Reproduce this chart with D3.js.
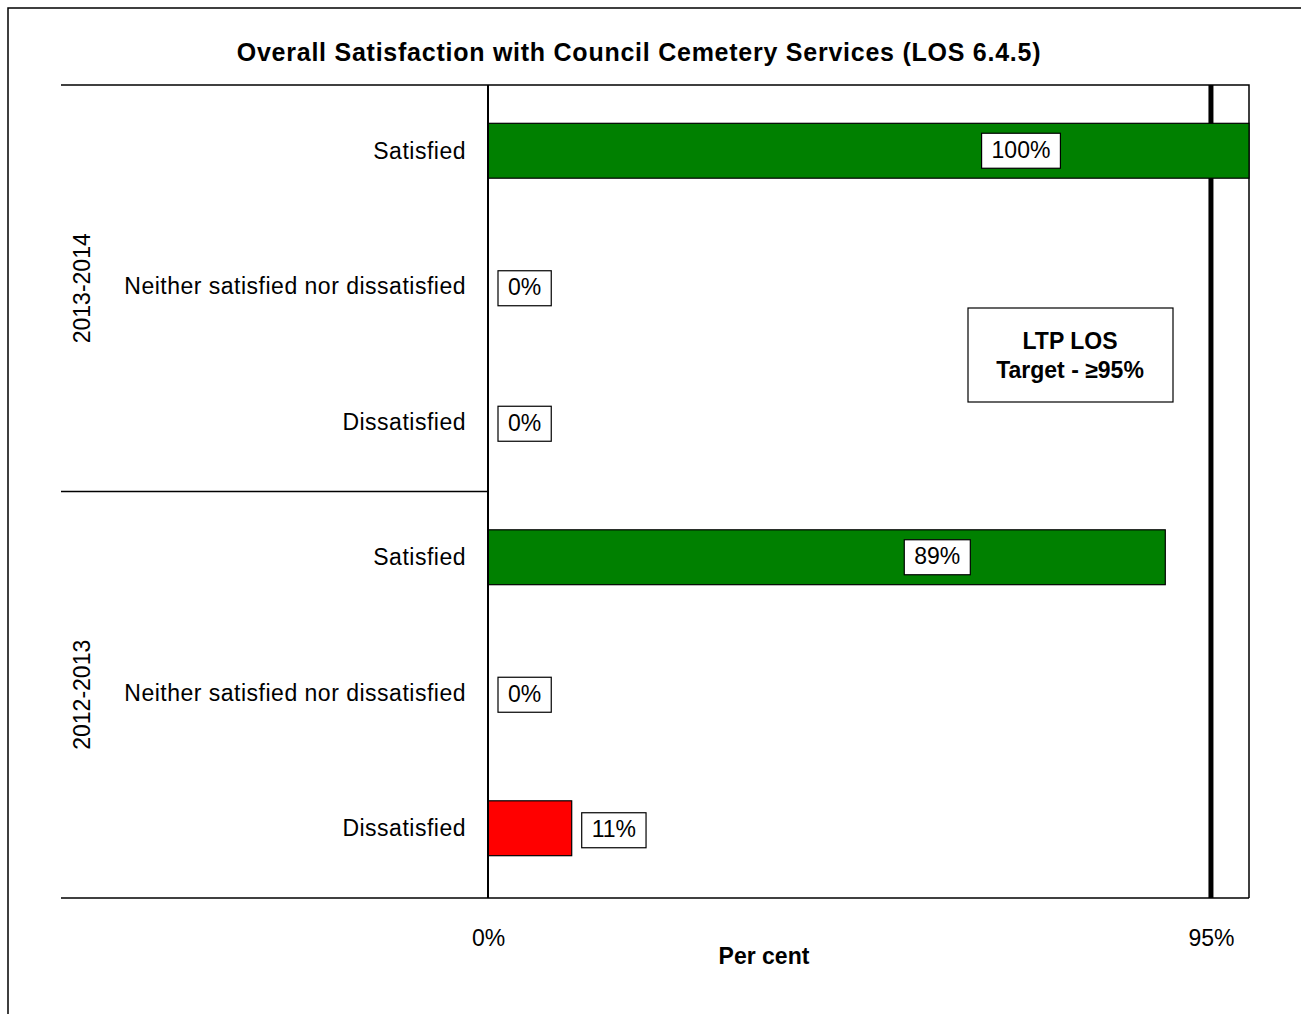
<!DOCTYPE html>
<html>
<head>
<meta charset="utf-8">
<script src="https://cdn.jsdelivr.net/npm/d3@7"></script>
<style>
  html, body { margin: 0; padding: 0; background: #fff; }
  svg { display: block; font-family: "Liberation Sans", Arial, sans-serif; }
</style>
</head>
<body>
<svg id="chart" width="1301" height="1014"></svg>
<script>
// ---- data ----
const groups = ["2013-2014", "2012-2013"];
const categories = ["Satisfied", "Neither satisfied nor dissatisfied", "Dissatisfied"];
const values2013_2014 = [100, 0, 0];
const values2012_2013 = [89, 0, 11];
const barColors = ["#008000", "#008000", "#FF0000"];
const xTicks = [0, 95];
const targetValue = 95;
const titleText = "Overall Satisfaction with Council Cemetery Services (LOS 6.4.5)";
const xAxisTitle = "Per cent";
const targetNote = ["LTP LOS", "Target - \u226595%"];

// ---- build rows ----
const rows = [];
[values2013_2014, values2012_2013].forEach((vals, gi) => {
  vals.forEach((v, ci) => {
    rows.push({ key: gi + "-" + ci, group: groups[gi], cat: categories[ci], value: v, color: barColors[ci] });
  });
});

const svg = d3.select("#chart");
const plot = { left: 488, right: 1249, top: 85, bottom: 898 };
const sepLeft = 61;
const FS = 23;
const LS = "0.5px";

// outer frame (only top/left visible)
svg.append("rect").attr("x", 8).attr("y", 8).attr("width", 1310).attr("height", 1020)
  .attr("fill", "none").attr("stroke", "#000").attr("stroke-width", 1.5);

const x = d3.scaleLinear().domain([0, 100]).range([plot.left, plot.right]);
const y = d3.scaleBand().domain(rows.map(d => d.key)).range([plot.top, plot.bottom])
  .paddingInner(0.595).paddingOuter(0.2975);

// title
svg.append("text").attr("x", 639).attr("y", 61).attr("text-anchor", "middle")
  .attr("font-size", 25).attr("font-weight", "bold").attr("letter-spacing", "0.75px").text(titleText);

// plot frame top & right
svg.append("path")
  .attr("d", `M${plot.left},${plot.top}H${plot.right}V${plot.bottom}`)
  .attr("fill", "none").attr("stroke", "#000").attr("stroke-width", 1.5);

// target line
svg.append("line").attr("x1", x(targetValue)).attr("x2", x(targetValue))
  .attr("y1", plot.top).attr("y2", plot.bottom).attr("stroke", "#000").attr("stroke-width", 5);

// bars
const barShift = -2;
svg.append("g").selectAll("rect").data(rows).join("rect")
  .attr("x", x(0))
  .attr("y", d => y(d.key) + barShift)
  .attr("width", d => x(d.value) - x(0))
  .attr("height", y.bandwidth())
  .attr("fill", d => d.color)
  .attr("stroke", d => d.value > 0 ? "#000" : "none")
  .attr("stroke-width", 1.2);

// group separators (multi-level category axis)
const midSep = (plot.top + plot.bottom) / 2;
[plot.top, midSep].forEach(yy => {
  svg.append("line").attr("x1", sepLeft).attr("x2", plot.left).attr("y1", yy).attr("y2", yy)
    .attr("stroke", "#000").attr("stroke-width", 1.5);
});
svg.append("line").attr("x1", sepLeft).attr("x2", plot.right).attr("y1", plot.bottom).attr("y2", plot.bottom)
  .attr("stroke", "#000").attr("stroke-width", 1.5);

// y axis line
svg.append("line").attr("x1", plot.left).attr("x2", plot.left).attr("y1", plot.top).attr("y2", plot.bottom)
  .attr("stroke", "#000").attr("stroke-width", 2);

// category labels
svg.append("g").selectAll("text").data(rows).join("text")
  .attr("x", 466)
  .attr("y", d => y(d.key) + y.bandwidth() / 2)
  .attr("text-anchor", "end").attr("dominant-baseline", "middle")
  .attr("font-size", FS).attr("letter-spacing", LS).text(d => d.cat);

// group labels (rotated)
groups.forEach((g, gi) => {
  const cy = gi === 0 ? (plot.top + midSep) / 2 : (midSep + plot.bottom) / 2;
  svg.append("text").attr("transform", `translate(84,${cy}) rotate(-90)`)
    .attr("text-anchor", "middle").attr("dominant-baseline", "middle")
    .attr("font-size", FS).text(g);
});

// x axis tick labels
const xAxis = d3.axisBottom(x).tickValues(xTicks).tickFormat(d => d + "%").tickSize(0).tickPadding(0);
const xg = svg.append("g").attr("transform", `translate(0,${plot.bottom + 32})`).call(xAxis);
xg.select(".domain").remove();
xg.selectAll("text").attr("font-size", FS).attr("font-family", "Liberation Sans, Arial, sans-serif").attr("fill", "#000");

// x axis title
svg.append("text").attr("x", 764).attr("y", 964).attr("text-anchor", "middle")
  .attr("font-size", FS).attr("font-weight", "bold").text(xAxisTitle);

// data labels
const lg = svg.append("g");
rows.forEach(d => {
  const g = lg.append("g");
  const t = g.append("text").attr("font-size", FS).attr("dominant-baseline", "middle")
    .attr("text-anchor", "middle").text(d.value + "%");
  const tw = t.node().getComputedTextLength();
  const bw = tw + 20, bh = 35;
  let cx, cy;
  if (d.value > 50) {
    cx = x(d.value) - 228;
    cy = y(d.key) + y.bandwidth() / 2 + barShift;
  } else {
    cx = x(d.value) + 10 + bw / 2;
    cy = y(d.key) + y.bandwidth() / 2;
  }
  g.insert("rect", "text").attr("x", cx - bw / 2).attr("y", cy - bh / 2)
    .attr("width", bw).attr("height", bh).attr("fill", "#fff").attr("stroke", "#000").attr("stroke-width", 1.2);
  t.attr("x", cx).attr("y", cy + 1);
});

// target note box
const nb = svg.append("g");
nb.append("rect").attr("x", 968).attr("y", 308).attr("width", 205).attr("height", 94)
  .attr("fill", "#fff").attr("stroke", "#000").attr("stroke-width", 1.2);
targetNote.forEach((s, i) => {
  nb.append("text").attr("x", 1070).attr("y", 349 + i * 29).attr("text-anchor", "middle")
    .attr("font-size", FS).attr("font-weight", "bold").text(s);
});
</script>
</body>
</html>
